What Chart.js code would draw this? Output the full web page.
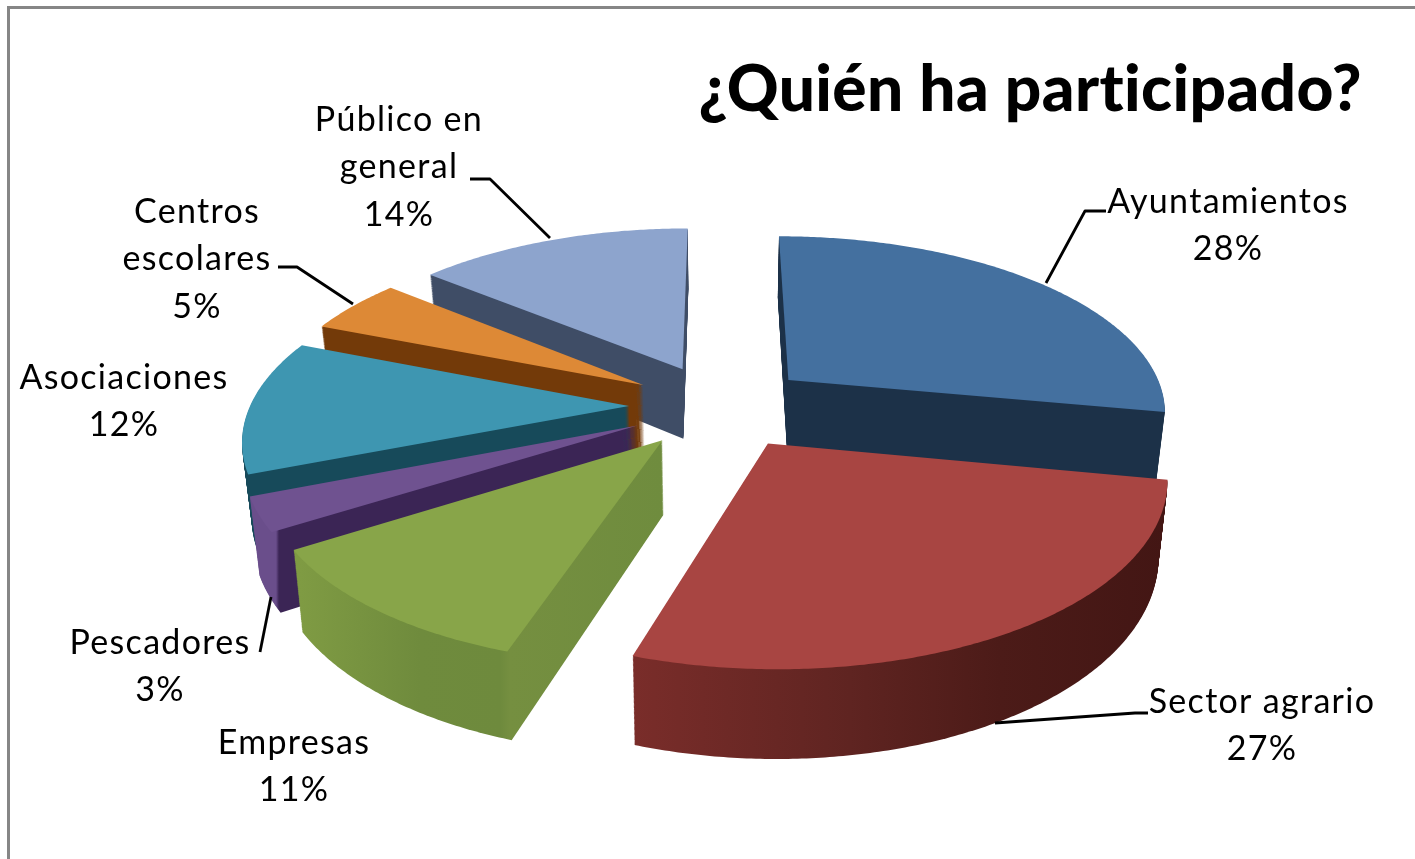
<!DOCTYPE html>
<html><head><meta charset="utf-8">
<style>
html,body{margin:0;padding:0;background:#fff;overflow:hidden}
#wrap{position:relative;width:1415px;height:859px}
#frame{position:absolute;left:7px;top:6px;right:0;bottom:0;border-left:3px solid #868686;border-top:3px solid #868686}
canvas{position:absolute;left:0;top:0}
</style>
<script src="https://cdn.jsdelivr.net/npm/chart.js@4"></script>
</head><body>
<div id="wrap"><div id="frame"></div><canvas id="c" width="1415" height="859"></canvas></div>
<script>
const categories = ['Ayuntamientos','Sector agrario','Empresas','Pescadores','Asociaciones','Centros escolares','Público en general'];
const shares = [28,27,11,3,12,5,14];
const labelLines = [['Ayuntamientos'],['Sector agrario'],['Empresas'],['Pescadores'],['Asociaciones'],['Centros','escolares'],['Público en','general']];
const topColors = ['#44709f','#a84542','#88a549','#6f5290','#3e96b1','#dd8936','#8da4cd'];
const wallStops = [
  [[785,'#1c3148'],[1165,'#1c3148']],
  [[630,'#7a2d2a'],[850,'#5f2421'],[1000,'#4c1b18'],[1165,'#431614']],
  [[300,'#7f9b43'],[420,'#6f8b3d'],[500,'#6e8a3d'],[510,'#758f40'],[662,'#6f8c3e']],
  [[245,'#6a4e8b'],[276,'#6a4e8b'],[279,'#3b2555'],[640,'#3b2555']],
  [[240,'#174a5a'],[640,'#174a5a']],
  [[320,'#733a09'],[650,'#733a09']],
  [[430,'#3f4d66'],[690,'#3f4d66']]
];
const drawOrder = [0,6,5,4,3,2,1];
const explode = 0.24;
const view = {cx:720, cy:406, A:379, B:175, k:0.164, depth:72, converge:0.00028};
const labelBoxes = [[1228,202],[1262,702],[294,743],[160,643],[124,378],[197,212],[399,120]];
const leaders = [
  [[1106,211],[1085,211],[1046,283]],
  [[1148,713],[1135,713],[995,723]],
  [],
  [[260,652],[271,597]],
  [],
  [[278,267],[297,267],[353,304]],
  [[470,179],[490,179],[550,238]]
];
const lineGap = 47.5;

function project(u, v, z){
  const w = 1/(1 - view.k*v);
  return [view.cx + view.A*u*w*(1 - z*view.converge), view.cy + view.B*v*w + z*w];
}
function tiltedContext(ctx, arc, z, fill){
  const R = arc.outerRadius, mid = (arc.startAngle+arc.endAngle)/2;
  const ex = explode*Math.cos(mid), ey = explode*Math.sin(mid);
  let tx = 0, ty = 0; const stack = [];
  const P = (x,y)=>project((x+tx-arc.x)/R+ex,(y+ty-arc.y)/R+ey,z);
  const over = {
    save(){stack.push([tx,ty]);ctx.save();},
    restore(){[tx,ty]=stack.pop();ctx.restore();},
    translate(a,b){tx+=a;ty+=b;},
    moveTo(x,y){ctx.moveTo(...P(x,y));},
    lineTo(x,y){ctx.lineTo(...P(x,y));},
    arc(x,y,r,a0,a1,ccw){
      const n = Math.max(2,Math.ceil(Math.abs(a1-a0)/0.01));
      for(let i=0;i<=n;i++){const a=a0+(a1-a0)*i/n;ctx.lineTo(...P(x+r*Math.cos(a),y+r*Math.sin(a)));}
    }
  };
  return new Proxy(ctx,{
    get(t,p){ if(p in over) return over[p]; const v=t[p]; return typeof v==='function'?v.bind(t):v; },
    set(t,p,v){ t[p]=(p==='fillStyle'&&fill)?fill:v; return true; }
  });
}
const tiltedPie = {
  id:'tiltedPie',
  beforeDraw(chart){ chart.ctx.letterSpacing='0.4px'; },
  beforeDatasetsDraw(chart){
    const ctx = chart.ctx, arcs = chart.getDatasetMeta(0).data;
    for(const i of drawOrder){
      const g = ctx.createLinearGradient(wallStops[i][0][0],0,wallStops[i][wallStops[i].length-1][0],0);
      const x0=wallStops[i][0][0], x1=wallStops[i][wallStops[i].length-1][0];
      wallStops[i].forEach(([x,c])=>g.addColorStop((x-x0)/(x1-x0),c));
      for(let z=view.depth;z>0;z-=1) arcs[i].draw(tiltedContext(ctx,arcs[i],z,g));
      arcs[i].draw(tiltedContext(ctx,arcs[i],0,null));
    }
    return false;
  },
  afterDraw(chart){
    const ctx = chart.ctx;
    ctx.save();
    ctx.strokeStyle='#000';ctx.lineWidth=2.8;ctx.lineJoin='round';
    leaders.forEach(l=>{ if(!l.length) return; ctx.beginPath(); l.forEach(([x,y],j)=>j?ctx.lineTo(x,y):ctx.moveTo(x,y)); ctx.stroke(); });
    ctx.fillStyle='#000';ctx.textAlign='center';ctx.textBaseline='middle';
    ctx.font='34px Lato';ctx.letterSpacing='1.3px';
    labelLines.forEach((lines,i)=>{
      const [x,y]=labelBoxes[i];
      lines.concat(shares[i]+'%').forEach((t,j)=>ctx.fillText(t,x,y+j*lineGap));
    });
    ctx.restore();
  }
};
new Chart(document.getElementById('c'),{
  type:'pie',
  data:{labels:categories,datasets:[{data:shares,backgroundColor:topColors,borderWidth:0,offset:0}]},
  options:{
    responsive:false,animation:false,
    layout:{padding:{right:53}},
    plugins:{
      legend:{display:false},tooltip:{enabled:false},
      title:{display:true,text:'¿Quién ha participado?',align:'end',color:'#000',font:{family:'Lato',size:64,weight:'900'},padding:{top:52,bottom:10}}
    }
  },
  plugins:[tiltedPie]
});
</script>
</body></html>
